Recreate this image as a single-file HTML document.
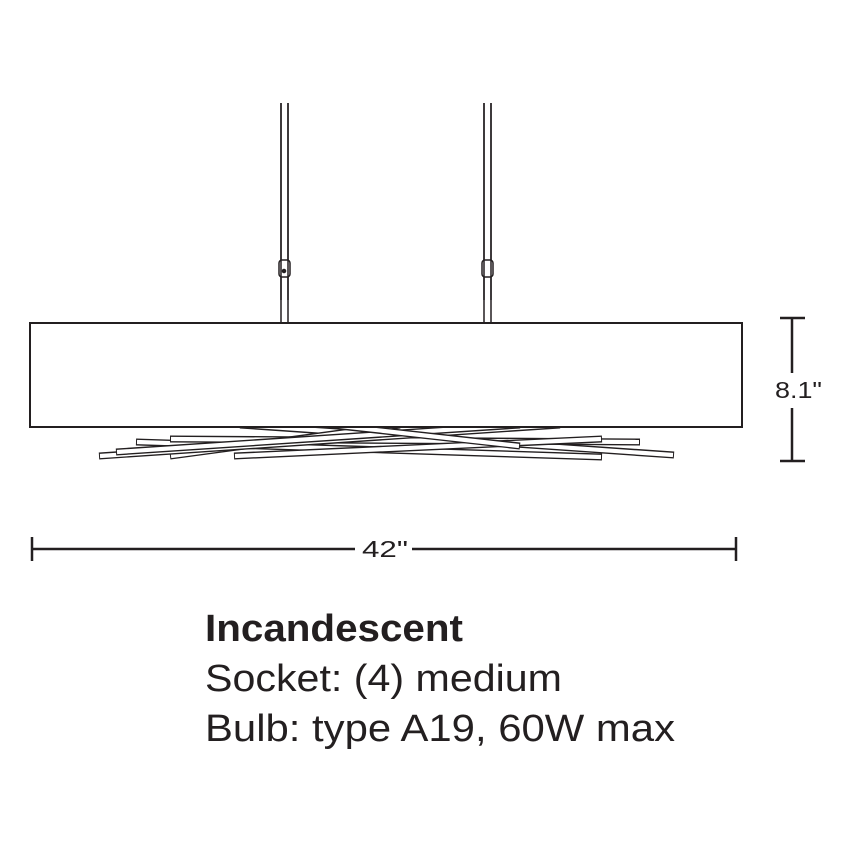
<!DOCTYPE html>
<html><head><style>body{margin:0;background:#fff}svg{display:block}</style></head><body>
<svg width="851" height="851" viewBox="0 0 851 851" xmlns="http://www.w3.org/2000/svg">
<defs>
<style>.b{stroke:#231f20;stroke-width:7}.w{stroke:#fff;stroke-width:4.2}</style>
</defs>
<g fill="none" stroke="#231f20">
<line x1="281" y1="103" x2="281" y2="322" stroke-width="1.5"/>
<line x1="288" y1="103" x2="288" y2="322" stroke-width="1.5"/>
<line x1="484" y1="103" x2="484" y2="322" stroke-width="1.5"/>
<line x1="491" y1="103" x2="491" y2="322" stroke-width="1.5"/>
<rect x="279" y="260" width="11" height="17" rx="3" fill="#fff" stroke-width="1.5"/>
<rect x="482" y="260" width="11" height="17" rx="3" fill="#fff" stroke-width="1.5"/>
<circle cx="284" cy="271" r="1.8" fill="#231f20"/>
</g>
<g fill="none">
<line class="b" x1="240" y1="425" x2="674" y2="455"/><line class="w" x1="241" y1="425" x2="673" y2="455"/>
<line class="b" x1="400" y1="425" x2="170" y2="456"/><line class="w" x1="399" y1="425" x2="171" y2="456"/>
<line class="b" x1="136" y1="442" x2="602" y2="457"/><line class="w" x1="137" y1="442" x2="601" y2="457"/>
<line class="b" x1="170" y1="439" x2="640" y2="442"/><line class="w" x1="171" y1="439" x2="639" y2="442"/>
<line class="b" x1="560" y1="425" x2="99" y2="456"/><line class="w" x1="559" y1="425" x2="100" y2="456"/>
<line class="b" x1="520" y1="425" x2="116" y2="452"/><line class="w" x1="519" y1="425" x2="117" y2="452"/>
<line class="b" x1="234" y1="456" x2="602" y2="439"/><line class="w" x1="235" y1="456" x2="601" y2="439"/>
<line class="b" x1="330" y1="425" x2="520" y2="446"/><line class="w" x1="331" y1="425" x2="519" y2="446"/>
</g>
<rect x="0" y="300" width="851" height="126" fill="#fff"/>
<g fill="none" stroke="#231f20">
<line x1="281" y1="103" x2="281" y2="322" stroke-width="1.5"/>
<line x1="288" y1="103" x2="288" y2="322" stroke-width="1.5"/>
<line x1="484" y1="103" x2="484" y2="322" stroke-width="1.5"/>
<line x1="491" y1="103" x2="491" y2="322" stroke-width="1.5"/>
<rect x="30" y="323" width="712" height="104" fill="#fff" stroke-width="2"/>
</g>
<g stroke="#231f20" stroke-width="2.5">
<line x1="780" y1="318" x2="805" y2="318"/>
<line x1="780" y1="461" x2="805" y2="461"/>
<line x1="792" y1="318" x2="792" y2="373"/>
<line x1="792" y1="408" x2="792" y2="461"/>
<line x1="32" y1="537" x2="32" y2="561"/>
<line x1="736" y1="537" x2="736" y2="561"/>
<line x1="32" y1="549" x2="355" y2="549"/>
<line x1="412" y1="549" x2="736" y2="549"/>
</g>
<g font-family="Liberation Sans, sans-serif" fill="#231f20">
<text x="775" y="398" font-size="23" textLength="47" lengthAdjust="spacingAndGlyphs">8.1"</text>
<text x="362" y="557" font-size="23" textLength="46" lengthAdjust="spacingAndGlyphs">42"</text>
<text x="205" y="641" font-size="38" font-weight="bold" textLength="258" lengthAdjust="spacingAndGlyphs">Incandescent</text>
<text x="205" y="691" font-size="38" textLength="357" lengthAdjust="spacingAndGlyphs">Socket: (4) medium</text>
<text x="205" y="741" font-size="38" textLength="470" lengthAdjust="spacingAndGlyphs">Bulb: type A19, 60W max</text>
</g>
</svg>
</body></html>
